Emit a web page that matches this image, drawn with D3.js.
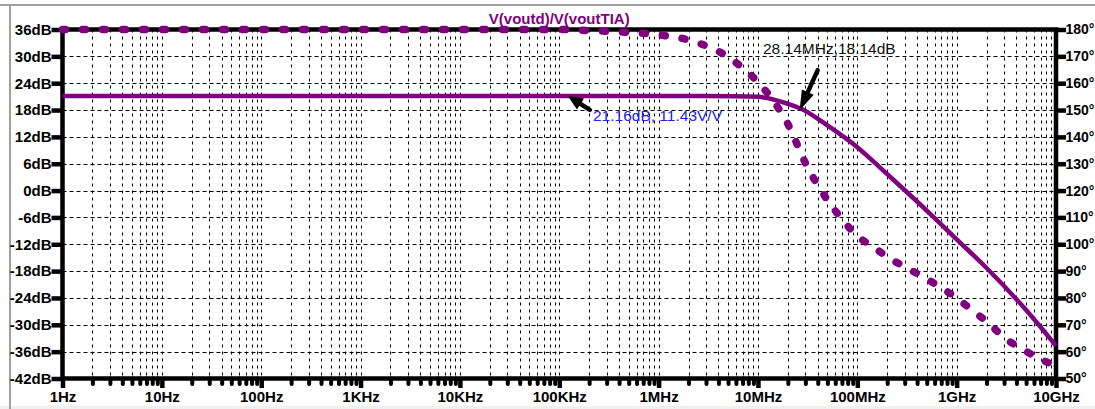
<!DOCTYPE html>
<html><head><meta charset="utf-8">
<script src="https://cdn.jsdelivr.net/npm/d3@7"></script>
<style>
body{margin:0;background:#fff;}
svg{display:block;}
text{font-family:"Liberation Sans",Arial,sans-serif;}
</style>
</head><body>
<svg id="c" width="1095" height="409"></svg>
<script>
// ---- data ----
const freqTicks = [1,1e1,1e2,1e3,1e4,1e5,1e6,1e7,1e8,1e9,1e10];
const freqTickLabels = ["1Hz","10Hz","100Hz","1KHz","10KHz","100KHz","1MHz","10MHz","100MHz","1GHz","10GHz"];
const dbTicks = [36,30,24,18,12,6,0,-6,-12,-18,-24,-30,-36,-42];
const dbTickLabels = ["36dB","30dB","24dB","18dB","12dB","6dB","0dB","-6dB","-12dB","-18dB","-24dB","-30dB","-36dB","-42dB"];
const phaseTicks = [180,170,160,150,140,130,120,110,100,90,80,70,60,50];
const phaseTickLabels = ["180°","170°","160°","150°","140°","130°","120°","110°","100°","90°","80°","70°","60°","50°"];

const magFreq = [1,1e5,1e6,3e6,1e7,2e7,2.814e7,5e7,1e8,2e8,5e8,1e9,2e9,5e9,1e10];
const magDb   = [21.16,21.16,21.15,21.12,20.95,19.4,18.14,14.57,9.7,3.67,-4.47,-10.9,-17.3,-26.7,-34.7];

const phaseFreq = [1,1e5,2e5,5e5,1e6,2e6,3e6,5e6,7e6,1e7,1.5e7,2e7,3e7,5e7,7e7,1e8,1.5e8,2e8,3e8,5e8,7e8,1e9,1.5e9,2e9,3e9,5e9,7e9,1e10];
const phaseDeg  = [180,180,179.6,178.9,178.0,176.1,173.9,169.8,165.7,160.4,152.3,144.8,130.3,116.5,109.4,103.1,98.6,95.3,91.6,87.1,83.8,80.0,74.8,71.3,65.3,60.1,57.2,54.6];

const title = "V(voutd)/V(voutTIA)";
const cursorA = {f:28.14e6, db:18.14, label:"28.14MHz,18.14dB"};
const cursorB = {f:1.22e5, db:21.16, label:"21.16dB, 11.43V/V"};

// ---- layout ----
const L=62.5, R=1056, T=29.5, B=378.5;
const purple="#800080";
const svg=d3.select("#c");

// window frame
svg.append("rect").attr("x",0).attr("y",406).attr("width",1095).attr("height",3).attr("fill","#f0f0f0");
svg.append("line").attr("x1",0).attr("x2",1095).attr("y1",5).attr("y2",5).attr("stroke","#a0a0a0").attr("stroke-width",2);
svg.append("line").attr("x1",10).attr("x2",10).attr("y1",5).attr("y2",409).attr("stroke","#a0a0a0").attr("stroke-width",2);

const x=d3.scaleLog().domain([1,1e10]).range([L,R]);
const yDb=d3.scaleLinear().domain([-42,36]).range([B,T]);
const yPh=d3.scaleLinear().domain([50,180]).range([B,T]);

const minor=[];
for(let d=1; d<1e10; d*=10) for(let k=2;k<=9;k++) minor.push(d*k);

// grid
const g=svg.append("g");
g.selectAll("line.h").data(dbTicks.filter(d=>d!==36&&d!==-42)).join("line")
 .attr("x1",L).attr("x2",R).attr("y1",d=>Math.round(yDb(d))+0.5).attr("y2",d=>Math.round(yDb(d))+0.5)
 .attr("stroke","#000").attr("stroke-width",1).attr("stroke-dasharray","4,3");
g.selectAll("line.v").data(freqTicks.slice(1,-1).concat(minor)).join("line")
 .attr("y1",T).attr("y2",B).attr("x1",d=>Math.round(x(d))+0.5).attr("x2",d=>Math.round(x(d))+0.5)
 .attr("stroke","#000").attr("stroke-width",1).attr("stroke-dasharray","3,4");

// axes
function styleAxis(sel,fs){
  sel.select(".domain").remove();
  sel.selectAll(".tick line").attr("stroke","#000").attr("stroke-width",4.5);
  sel.selectAll(".tick text").attr("fill","#000").style("font-size",fs+"px").style("font-weight","bold").style("font-family","'Liberation Sans',Arial,sans-serif");
}
const axL=svg.append("g").attr("transform",`translate(${L},0)`)
 .call(d3.axisLeft(yDb).tickValues(dbTicks).tickFormat((d,i)=>dbTickLabels[i]).tickSize(11).tickPadding(0).tickSizeOuter(0));
styleAxis(axL,15);
const axR=svg.append("g").attr("transform",`translate(${R},0)`)
 .call(d3.axisRight(yPh).tickValues(phaseTicks).tickFormat((d,i)=>phaseTickLabels[i]).tickSize(10).tickPadding(-0.5).tickSizeOuter(0));
styleAxis(axR,14);
const axB=svg.append("g").attr("transform",`translate(0,${B})`)
 .call(d3.axisBottom(x).tickValues(freqTicks).tickFormat((d,i)=>freqTickLabels[i]).tickSize(9.5).tickPadding(3.3).tickSizeOuter(0));
styleAxis(axB,15);
const axBm=svg.append("g").attr("transform",`translate(0,${B})`)
 .call(d3.axisBottom(x).tickValues(minor).tickFormat("").tickSize(5.5).tickSizeOuter(0));
axBm.select(".domain").remove();
axBm.selectAll(".tick line").attr("stroke","#000").attr("stroke-width",4).attr("stroke-linecap","round");

// frame
svg.append("rect").attr("x",L).attr("y",T).attr("width",R-L).attr("height",B-T)
 .attr("fill","none").attr("stroke","#000").attr("stroke-width",4.5);

// title
svg.append("text").attr("x",(L+R)/2).attr("y",24).attr("text-anchor","middle")
 .attr("fill",purple).style("font-size","15px").style("font-weight","bold").text(title);

// curves
const magLine=d3.line().x(d=>x(d[0])).y(d=>yDb(d[1])).curve(d3.curveMonotoneX);
svg.append("path").datum(magFreq.map((f,i)=>[f,magDb[i]])).attr("d",magLine)
 .attr("fill","none").attr("stroke",purple).attr("stroke-width",4.5).attr("stroke-linejoin","round");
const phLine=d3.line().x(d=>x(d[0])).y(d=>yPh(d[1])).curve(d3.curveMonotoneX);
svg.append("path").datum(phaseFreq.map((f,i)=>[f,phaseDeg[i]])).attr("d",phLine)
 .attr("fill","none").attr("stroke",purple).attr("stroke-width",7.5).attr("stroke-linecap","round")
 .attr("stroke-dasharray","3,17");

// annotations
function arrow(tipX,tipY,tailX,tailY,headLen,headW,shaftW){
  const ang=Math.atan2(tipY-tailY,tipX-tailX);
  const bx=tipX-headLen*Math.cos(ang), by=tipY-headLen*Math.sin(ang);
  const px=-Math.sin(ang)*headW/2, py=Math.cos(ang)*headW/2;
  svg.append("line").attr("x1",tailX).attr("y1",tailY).attr("x2",bx).attr("y2",by)
   .attr("stroke","#000").attr("stroke-width",shaftW).attr("stroke-linecap","round");
  svg.append("path").attr("d",`M${tipX},${tipY}L${bx+px},${by+py}L${bx-px},${by-py}Z`).attr("fill","#000");
}
const ax1=x(cursorA.f), ay1=yDb(cursorA.db);
arrow(ax1-3,ay1+1,ax1+15,ay1-39,20,13,4.5);
svg.append("text").attr("x",763).attr("y",54).attr("fill","#111").style("font-size","15.5px").text(cursorA.label);
const ax2=x(cursorB.f), ay2=yDb(cursorB.db);
arrow(ax2,ay2,ax2+22,ay2+14,15,13,4.5);
svg.append("text").attr("x",593).attr("y",121).attr("fill","#2020f0").style("font-size","15.5px").text(cursorB.label);
</script>
</body></html>
